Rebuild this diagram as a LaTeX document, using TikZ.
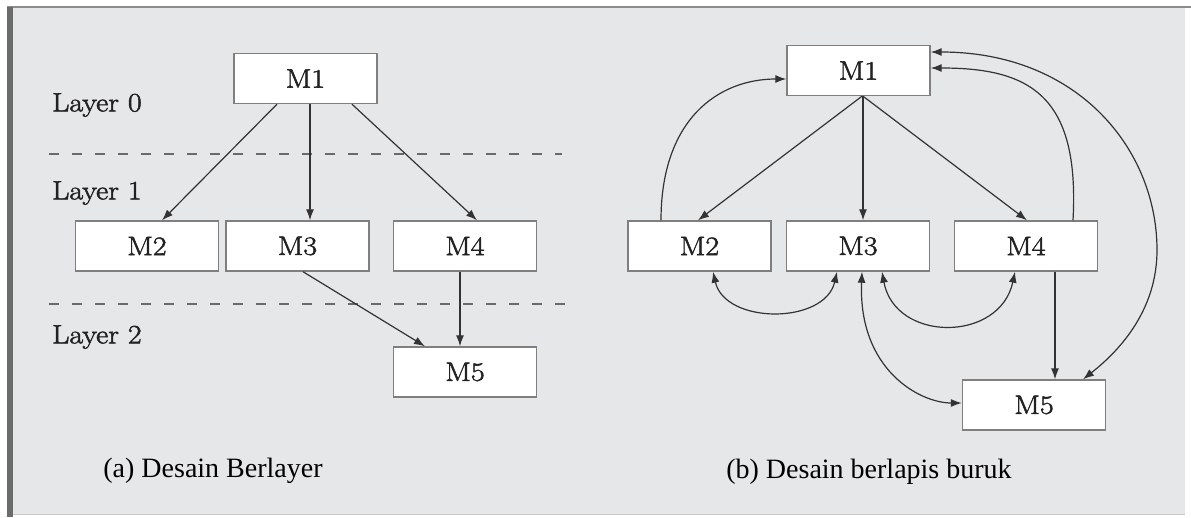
\documentclass[tikz,border=0pt]{standalone}
\usepackage{fontspec}
\newfontfamily\labfont[FakeStretch=1.13,FakeBold=2]{Latin Modern Roman}
\newfontfamily\capfont{Liberation Serif}
\usetikzlibrary{arrows.meta,calc}
\definecolor{bgc}{HTML}{E6E7E9}
\definecolor{boxline}{HTML}{7F7F7F}
\definecolor{conn}{HTML}{333333}
\definecolor{txt}{HTML}{222222}
\definecolor{dashc}{HTML}{6A6A6A}
\tikzset{
  mod/.style={draw=boxline, line width=1.4pt, fill=white, minimum width=143pt, minimum height=50pt, inner sep=0pt, font=\labfont\fontsize{26.5}{30}\selectfont, text=txt},
  lay/.style={anchor=west, inner sep=0pt, font=\labfont\fontsize{26.5}{30}\selectfont, text=txt},
  captext/.style={inner sep=0pt, font=\capfont\fontsize{28}{32}\selectfont, text=black},
  conn/.style={draw=conn, line width=1.2pt, -{Latex[length=11pt,width=8pt]}},
  bconn/.style={draw=conn, line width=1.2pt, {Latex[length=11pt,width=8pt]}-{Latex[length=11pt,width=8pt]}},
  sep/.style={draw=dashc, line width=1.6pt, dash pattern=on 10pt off 13pt}
}
\begin{document}
\begin{tikzpicture}[x=1pt,y=-1pt]
\useasboundingbox (0,0) rectangle (1191,517);
\fill[white] (0,0) rectangle (1191,517);
\fill[bgc] (7,7) rectangle (1185,515);
\draw[color=black!45, line width=2pt] (7,7) -- (1191,7);
\draw[color=black!22, line width=1.2pt] (13,514.5) -- (1185,514.5);
\fill[black!58] (7,7) rectangle (13,517);

% ---------- (a) ----------
\node[lay] (L0) at (52,105) {Layer 0};
\node[lay] (L1) at (52,193) {Layer 1};
\node[lay] (L2) at (52,337) {Layer 2};
\coordinate (s1a) at (49,154); \coordinate (s1b) at (562,154);
\coordinate (s2a) at (49,304); \coordinate (s2b) at (578,304);
\draw[sep] (s1a) -- (s1b);
\draw[sep] (s2a) -- (s2b);

\node[mod] (LM1) at (305.5,78.5) {M1};
\node[mod] (LM2) at (147,246) {M2};
\node[mod] (LM3) at (297.5,246) {M3};
\node[mod] (LM4) at (465,246) {M4};
\node[mod] (LM5) at (465,372) {M5};

\draw[conn] ([xshift=-28.5pt]LM1.south) -- ([xshift=15pt]LM2.north);
\draw[conn] ([xshift=4.5pt]LM1.south) -- ([xshift=12.5pt]LM3.north);
\draw[conn] ([xshift=46.5pt]LM1.south) -- ([xshift=12pt]LM4.north);
\draw[conn] ([xshift=5.5pt]LM3.south) -- ([xshift=-40pt]LM5.north);
\draw[conn] ([xshift=-5pt]LM4.south) -- ([xshift=-5pt]LM5.north);

\node[captext] (capa) at (213,471) {(a) Desain Berlayer};

% ---------- (b) ----------
\node[mod] (RM1) at (858.5,70.5) {M1};
\node[mod] (RM2) at (699.5,246) {M2};
\node[mod] (RM3) at (858,246) {M3};
\node[mod] (RM4) at (1026,246) {M4};
\node[mod] (RM5) at (1034,405) {M5};

\draw[conn] ([xshift=3.5pt]RM1.south) -- ([xshift=-1.5pt]RM2.north);
\draw[conn] ([xshift=4.5pt]RM1.south) -- ([xshift=5pt]RM3.north);
\draw[conn] ([xshift=4.5pt]RM1.south) -- ([xshift=1pt]RM4.north);
\draw[conn] ([xshift=29pt]RM4.south) -- ([xshift=21pt]RM5.north);

\draw[conn] ([xshift=-38.5pt]RM2.north) .. controls +(0,-101) and +(-68,0) .. ([yshift=-8.5pt]RM1.west);
\draw[conn] ([xshift=47pt]RM4.north) .. controls +(7,-126) and +(98,0) .. ([yshift=2.5pt]RM1.east);
\coordinate (rim) at (1157,250);
\draw[bconn] ([yshift=18.5pt]RM1.east) .. controls +(148,0) and +(0,-100) .. (rim) .. controls +(0,60) and +(37,-29) .. ([xshift=49pt]RM5.north);
\draw[bconn] ([xshift=13.5pt]RM2.south) .. controls +(12,53) and +(-12,53) .. ([xshift=-21pt]RM3.south);
\draw[bconn] ([xshift=24pt]RM3.south) .. controls +(13,71) and +(-15,71) .. ([xshift=-11pt]RM4.south);
\draw[bconn] ([xshift=4pt]RM3.south) .. controls +(-4,98) and +(-42,0) .. ([yshift=2pt]RM5.west);

\node[captext] (capb) at (869,472) {(b) Desain berlapis buruk};
\end{tikzpicture}
\end{document}
